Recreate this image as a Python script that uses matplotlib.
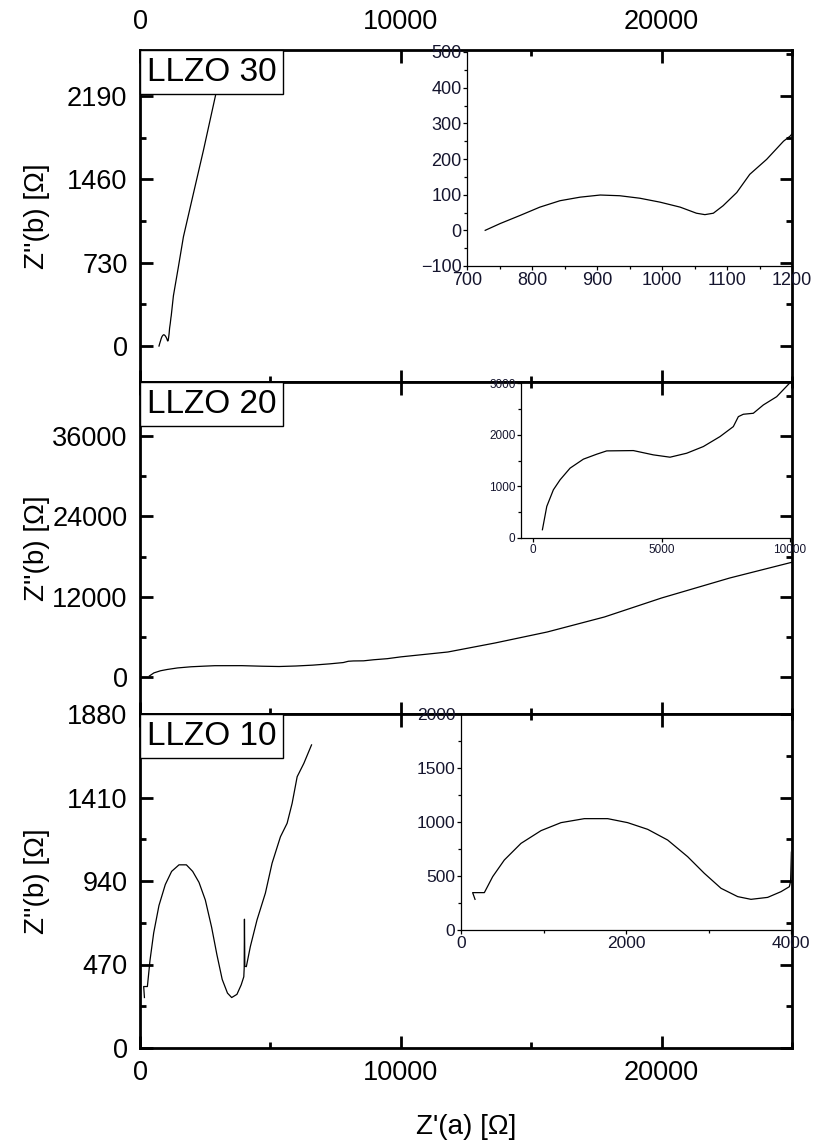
import numpy as np
import matplotlib
matplotlib.use("Agg")
import matplotlib.pyplot as plt
from matplotlib.ticker import MultipleLocator
from matplotlib.offsetbox import AnchoredText

plt.rcParams['font.family'] = ['Liberation Sans', 'DejaVu Sans']

# LLZO 30
z30_re = [728, 751, 782, 812, 843, 874, 905, 935, 966, 997, 1028, 1053, 1066, 1079, 1094,
          1115, 1135, 1161, 1187, 1197, 1281, 1473, 1665, 2050, 2435, 2885, 3300]
z30_im = [0, 19, 42, 65, 83, 93, 99, 97, 90, 79, 65, 48, 44, 48, 69,
          106, 157, 199, 250, 264, 440, 695, 957, 1338, 1717, 2184, 2620]

# LLZO 20
z20_re = [363, 533, 790, 1051, 1440, 1958, 2477, 2866, 3904, 4682, 5331, 5980, 6627, 7276,
          7794, 7990, 8183, 8572, 8962, 9481, 10000, 11807, 13615, 15615, 17807, 20000, 22615, 25038]
z20_im = [160, 611, 933, 1126, 1352, 1526, 1622, 1686, 1692, 1609, 1564, 1641, 1770, 1963,
          2156, 2349, 2395, 2414, 2575, 2735, 3005, 3735, 5080, 6723, 8964, 11803, 14791, 17181]

# LLZO 10
z10_re = [170, 141, 283, 384, 525, 727, 970, 1212, 1495, 1778, 2020, 2263, 2505, 2747, 2949,
          3152, 3354, 3515, 3717, 3879, 3980, 3995, 4005, 4020, 4077, 4231, 4487, 4808, 5064,
          5385, 5641, 5833, 6026, 6282, 6577]
z10_im = [284, 346, 346, 494, 648, 802, 920, 994, 1031, 1031, 994, 932, 833, 679, 525,
          386, 309, 284, 302, 355, 401, 450, 725, 460, 458, 571, 721, 872, 1040,
          1189, 1265, 1377, 1527, 1602, 1706]

labels = ["LLZO 30", "LLZO 20", "LLZO 10"]

W, H = 814, 1147
def rect(x0, y0, x1, y1):
    return [x0 / W, 1 - y1 / H, (x1 - x0) / W, (y1 - y0) / H]

fig = plt.figure(figsize=(W / 100, H / 100), dpi=100)

main_rects = [rect(140, 50, 792, 382), rect(140, 382, 792, 714), rect(140, 714, 792, 1048)]
ylims = [(-315, 2593), (-5530, 44070), (0, 1880)]
ysteps = [730, 12000, 470]
data = [(z30_re, z30_im), (z20_re, z20_im), (z10_re, z10_im)]

axes = []
for i in range(3):
    ax = fig.add_axes(main_rects[i])
    ax.plot(data[i][0], data[i][1], color='black', lw=0.9)
    ax.set_xlim(0, 25000)
    ax.set_ylim(*ylims[i])
    ax.xaxis.set_major_locator(MultipleLocator(10000))
    ax.xaxis.set_minor_locator(MultipleLocator(5000))
    ax.yaxis.set_major_locator(MultipleLocator(ysteps[i]))
    ax.yaxis.set_minor_locator(MultipleLocator(ysteps[i] / 2))
    ax.tick_params(which='both', direction='in', top=True, right=True, width=2,
                   labelsize=19.5, pad=9,
                   labeltop=(i == 0), labelbottom=(i == 2))
    ax.tick_params(which='major', length=9)
    ax.tick_params(which='minor', length=4.5)
    for s in ax.spines.values():
        s.set_linewidth(2)
    ax.set_ylabel("Z''(b) [Ω]", fontsize=20)
    ax.yaxis.set_label_coords(-0.138, 0.5)
    at = AnchoredText(labels[i], loc='upper left', borderpad=0, pad=0.2,
                      prop=dict(size=24), frameon=True)
    at.patch.set_linewidth(1)
    ax.add_artist(at)
    axes.append(ax)

axes[0].tick_params(axis='x', which='both', pad=11)
axes[2].set_xlabel("Z'(a) [Ω]", fontsize=20, labelpad=20)

# insets
inset_rects = [rect(467, 52, 792, 266), rect(521, 383, 790, 538), rect(461, 714, 791, 930)]
in_xlims = [(700, 1200), (-470, 10000), (0, 4000)]
in_ylims = [(-100, 500), (0, 3000), (0, 2000)]
in_xsteps = [(100, 50), (5000, 5000), (2000, 1000)]
in_ysteps = [(100, 50), (1000, 500), (500, 250)]
in_sizes = [13, 8.5, 12.5]
tick_col = '#15152e'

for i in range(3):
    ins = fig.add_axes(inset_rects[i])
    ins.set_facecolor('none')
    ins.plot(data[i][0], data[i][1], color='black', lw=0.9)
    ins.set_xlim(*in_xlims[i])
    ins.set_ylim(*in_ylims[i])
    ins.xaxis.set_major_locator(MultipleLocator(in_xsteps[i][0]))
    ins.xaxis.set_minor_locator(MultipleLocator(in_xsteps[i][1]))
    ins.yaxis.set_major_locator(MultipleLocator(in_ysteps[i][0]))
    ins.yaxis.set_minor_locator(MultipleLocator(in_ysteps[i][1]))
    ins.spines['top'].set_visible(False)
    ins.spines['right'].set_visible(False)
    ins.spines['left'].set_linewidth(0.9)
    ins.spines['bottom'].set_linewidth(0.9)
    ins.tick_params(which='both', direction='out', width=0.9, labelsize=in_sizes[i],
                    labelcolor=tick_col, pad=1)
    ins.tick_params(which='major', length=3)
    ins.tick_params(which='minor', length=2)

fig.savefig("out.png", dpi=100)
